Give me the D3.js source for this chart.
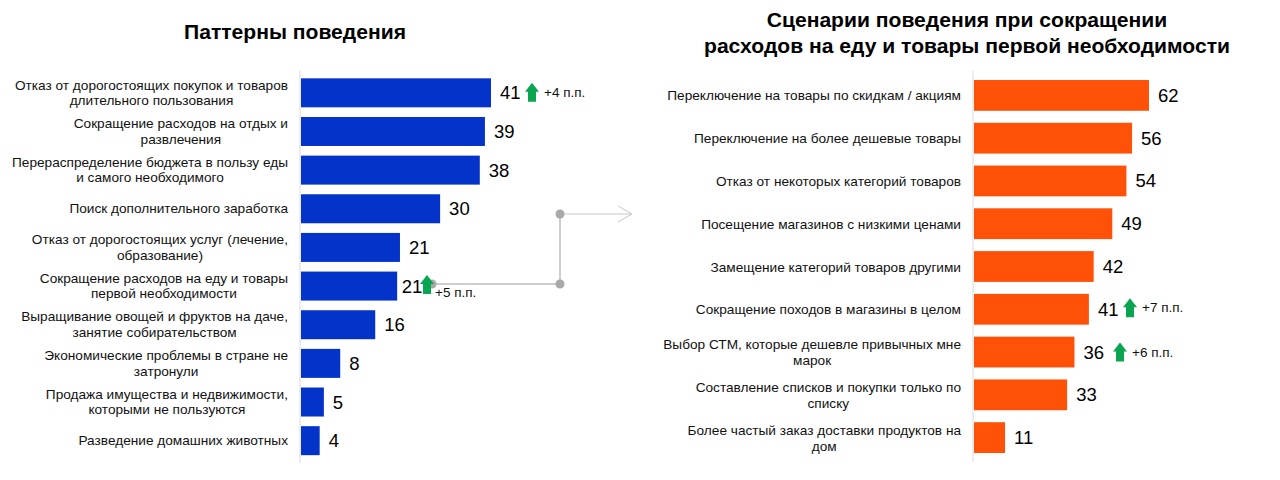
<!DOCTYPE html>
<html><head><meta charset="utf-8">
<script src="https://cdn.jsdelivr.net/npm/d3@7/dist/d3.min.js"></script>
<style>html,body{margin:0;padding:0;background:#fff}svg{display:block;font-family:"Liberation Sans",Arial,sans-serif}</style>
</head><body><svg id="c" width="1280" height="480"></svg>
<script>
const leftLabels=[["Отказ от дорогостоящих покупок и товаров","длительного пользования"],["Сокращение расходов на отдых и","развлечения"],["Перераспределение бюджета в пользу еды","и самого необходимого"],["Поиск дополнительного заработка"],["Отказ от дорогостоящих услуг (лечение,","образование)"],["Сокращение расходов на еду и товары","первой необходимости"],["Выращивание овощей и фруктов на даче,","занятие собирательством"],["Экономические проблемы в стране не","затронули"],["Продажа имущества и недвижимости,","которыми не пользуются"],["Разведение домашних животных"]];
const leftValues=[40.7,39.4,38.3,29.8,21.2,20.6,15.9,8.4,4.9,4.0];
const leftDeltas=[["+4 п.п.",0],null,null,null,null,["+5 п.п.",5],null,null,null,null];
const rightLabels=[["Переключение на товары по скидкам / акциям"],["Переключение на более дешевые товары"],["Отказ от некоторых категорий товаров"],["Посещение магазинов с низкими ценами"],["Замещение категорий товаров другими"],["Сокращение походов в магазины в целом"],["Выбор СТМ, которые дешевле привычных мне","марок"],["Составление списков и покупки только по","списку"],["Более частый заказ доставки продуктов на","дом"]];
const rightValues=[62,56,54,49,42.4,40.7,35.6,33,11];
const rightDeltas=[null,null,null,null,null,["+7 п.п.",0],["+6 п.п.",0],null,null];
const leftTitle=["Паттерны поведения"];
const rightTitle=["Сценарии поведения при сокращении","расходов на еду и товары первой необходимости"];
const svg=d3.select("#c");

const conn=d3.line();
svg.append("path").attr("d",conn([[428,284],[560,284],[560,214]])).attr("fill","none").attr("stroke","#bdbdbd").attr("stroke-width",1.5);
svg.append("path").attr("d",conn([[560,214],[631,214]])).attr("fill","none").attr("stroke","#c8c8c8").attr("stroke-width",1);
svg.append("path").attr("d",conn([[618,206],[632,214],[618,222]])).attr("fill","none").attr("stroke","#c8c8c8").attr("stroke-width",1);
[[432,284],[560,284],[560,214]].forEach(c=>svg.append("circle").attr("cx",c[0]).attr("cy",c[1]).attr("r",4.5).attr("fill","#a9a9a9"));

function panel(o){
  const n=o.values.length;
  const x=d3.scaleLinear().domain([0,o.maxV]).range([o.x0,o.x1]);
  const y=d3.scaleBand().domain(d3.range(n)).range([o.top,o.bottom]).paddingInner(o.pad).paddingOuter(o.pad/2);
  const g=svg.append("g");
  g.append("line").attr("x1",o.x0-1).attr("x2",o.x0-1).attr("y1",o.top-3).attr("y2",o.bottom+3).attr("stroke","#d9d9d9").attr("stroke-width",1);
  g.selectAll("rect").data(o.values).join("rect").attr("x",o.x0).attr("y",(d,i)=>y(i)).attr("height",y.bandwidth()).attr("width",d=>x(d)-o.x0).attr("fill",o.color);
  o.values.forEach((v,i)=>{
    const cy=y(i)+y.bandwidth()/2;
    const t=g.append("text").attr("font-size",13.65).attr("fill","#111");
    const lines=o.labels[i];
    const sp=lines.map((l,k)=>t.append("tspan").text(l).attr("y",cy+4.5+o.labelDy+(k-(lines.length-1)/2)*o.lh));
    const w=d3.max(sp,s=>s.node().getComputedTextLength());
    sp.forEach(s=>s.attr("x",o.labelRight-w/2).attr("text-anchor","middle"));
    const vx=x(v)+(o.valueGap[i]===undefined?9:o.valueGap[i]);
    g.append("text").attr("x",vx).attr("y",cy+6.5).attr("font-size",18.5).attr("fill","#000").text(d3.format(".0f")(v));
    const dl=o.deltas[i];
    if(dl){
      const ax=o.arrowX[i];
      const ay=cy+o.arrowDy[i];
      const p=d3.path();
      p.moveTo(ax,ay-10);p.lineTo(ax+7,ay-1);p.lineTo(ax+4,ay-1);p.lineTo(ax+4,ay+9);p.lineTo(ax-4,ay+9);p.lineTo(ax-4,ay-1);p.lineTo(ax-7,ay-1);p.closePath();
      g.append("path").attr("d",p.toString()).attr("fill","#0aa551");
      g.append("text").attr("x",o.deltaX[i]).attr("y",ay+4+o.deltaDy[i]).attr("font-size",13.5).attr("fill","#111").text(dl[0]);
    }
  });
}
panel({values:leftValues,labels:leftLabels,deltas:leftDeltas,maxV:40.7,x0:301,x1:491,top:73.5,bottom:460,pad:0.25,color:"#0433c9",lh:15.5,labelRight:288,labelDy:0,
  valueGap:{5:4.5},arrowX:{0:532,5:427},deltaX:{0:544,5:435},arrowDy:{0:0,5:-1},deltaDy:{0:0,5:8}});
panel({values:rightValues,labels:rightLabels,deltas:rightDeltas,maxV:62,x0:974,x1:1149,top:74,bottom:459,pad:0.28,color:"#ff5208",lh:16,labelRight:961,labelDy:0.5,
  valueGap:{},arrowX:{5:1130,6:1120},deltaX:{5:1142,6:1132},arrowDy:{5:-1,6:0.5},deltaDy:{5:0,6:0}});

[[leftTitle,295,39],[rightTitle,967,27]].forEach(([lines,cx,y0])=>{
  svg.append("g").selectAll("text").data(lines).join("text").attr("x",cx).attr("y",(d,i)=>y0+i*26).attr("text-anchor","middle").attr("font-size",21.1).attr("font-weight","bold").attr("fill","#000").text(d=>d);
});
</script></body></html>
